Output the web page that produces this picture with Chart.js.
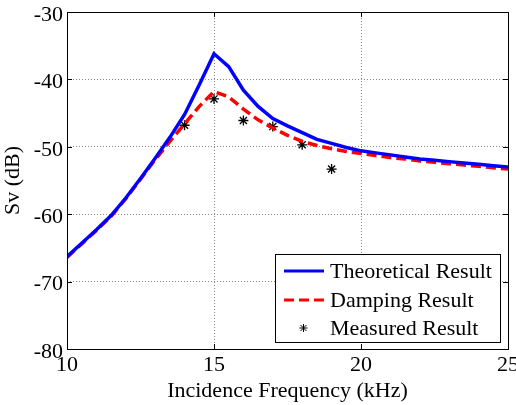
<!DOCTYPE html>
<html>
<head>
<meta charset="utf-8">
<script src="https://cdn.jsdelivr.net/npm/chart.js@4/dist/chart.umd.min.js"></script>
<style>
html,body{margin:0;padding:0;background:#fff;}
canvas{display:block;}
</style>
</head>
<body>
<canvas id="c" width="516" height="405"></canvas>
<script>
// frequency (kHz) and response values
var freq = [10,10.5,11,11.5,12,12.5,13,13.5,14,14.5,15,15.5,16,16.5,17,17.5,18,18.5,19,19.5,20,20.5,21,21.5,22,22.5,23,23.5,24,24.5,25];
var theoretical = [-66.3,-64.3,-62.3,-60.2,-57.6,-54.7,-51.7,-48.6,-45.2,-40.8,-36.2,-38.1,-41.6,-44.0,-45.8,-46.9,-47.9,-48.9,-49.5,-50.1,-50.6,-50.9,-51.2,-51.5,-51.8,-52.0,-52.2,-52.4,-52.6,-52.8,-53.0];
var damping = [-66.4,-64.4,-62.4,-60.3,-57.7,-54.8,-51.9,-49.2,-46.6,-44.0,-41.8,-42.6,-44.4,-46.0,-47.2,-48.3,-49.2,-49.8,-50.3,-50.7,-51.0,-51.3,-51.6,-51.8,-52.1,-52.3,-52.5,-52.7,-52.9,-53.1,-53.3];
var measFreq = [14,15,16,17,18,19];
var measured = [-46.8,-42.9,-46.1,-47.0,-49.7,-53.3];
var xTicks = [10,15,20,25];
var yTicks = [-80,-70,-60,-50,-40,-30];

var serif = "'Liberation Serif', 'Times New Roman', serif";

function pts(xs, ys){
    var out = [];
    for(var i=0;i<xs.length;i++) out.push({x:xs[i], y:ys[i]});
    return out;
}

// box round the plot, inward ticks and the legend
var frame = {
    id:'frame',
    afterDraw:function(chart){
        var ctx = chart.ctx, a = chart.chartArea;
        var xs = chart.scales.x, ys = chart.scales.y;
        ctx.save();
        ctx.strokeStyle = '#000';
        ctx.lineWidth = 1;
        ctx.strokeRect(Math.round(a.left)+0.5, Math.round(a.top)+0.5, Math.round(a.right-a.left), Math.round(a.bottom-a.top));
        ctx.beginPath();
        xTicks.forEach(function(v){
            var p = Math.round(xs.getPixelForValue(v))+0.5;
            ctx.moveTo(p, a.bottom); ctx.lineTo(p, a.bottom-5);
            ctx.moveTo(p, a.top); ctx.lineTo(p, a.top+5);
        });
        yTicks.forEach(function(v){
            var p = Math.round(ys.getPixelForValue(v))+0.5;
            ctx.moveTo(a.left, p); ctx.lineTo(a.left+5, p);
            ctx.moveTo(a.right, p); ctx.lineTo(a.right-5, p);
        });
        ctx.stroke();

        // legend
        var bx = 275, by = 254, bw = 225, bh = 88;
        ctx.fillStyle = '#fff';
        ctx.fillRect(bx, by, bw, bh);
        ctx.strokeRect(bx+0.5, by+0.5, bw, bh);
        ctx.font = '22px ' + serif;
        ctx.textBaseline = 'middle';
        ctx.textAlign = 'left';
        var rows = [271, 300, 328];
        var ds = chart.data.datasets;
        for(var i=0;i<ds.length;i++){
            var y = rows[i];
            if(i < 2){
                ctx.beginPath();
                ctx.strokeStyle = ds[i].borderColor;
                ctx.lineWidth = 3;
                ctx.setLineDash(ds[i].borderDash || []);
                ctx.moveTo(284, y); ctx.lineTo(324, y);
                ctx.stroke();
                ctx.setLineDash([]);
            } else {
                ctx.strokeStyle = '#000';
                ctx.lineWidth = 1;
                ctx.beginPath();
                ctx.moveTo(300.5, y-3); ctx.lineTo(306.5, y+3);
                ctx.moveTo(306.5, y-3); ctx.lineTo(300.5, y+3);
                ctx.moveTo(303.5, y-4); ctx.lineTo(303.5, y+4);
                ctx.moveTo(299.5, y); ctx.lineTo(307.5, y);
                ctx.stroke();
            }
            ctx.fillStyle = '#000';
            ctx.fillText(ds[i].label, 330, y+1);
        }
        ctx.restore();
    }
};

new Chart(document.getElementById('c'), {
    type:'line',
    data:{
        datasets:[{
            label:'Theoretical Result',
            data:pts(freq, theoretical),
            borderColor:'#0000ff',
            borderWidth:3.5,
            pointRadius:0,
            tension:0,
            fill:false
        },{
            label:'Damping Result',
            data:pts(freq, damping),
            borderColor:'#ff0000',
            borderWidth:3.5,
            borderDash:[10,5],
            pointRadius:0,
            tension:0,
            fill:false
        },{
            label:'Measured Result',
            data:pts(measFreq, measured),
            showLine:false,
            pointStyle:'star',
            pointRadius:5,
            borderColor:'#000',
            backgroundColor:'#000',
            pointBorderWidth:1.3
        }]
    },
    options:{
        responsive:false,
        animation:false,
        devicePixelRatio:1,
        layout:{padding:{top:12, right:8, left:0, bottom:0}},
        plugins:{legend:{display:false}, tooltip:{enabled:false}},
        scales:{
            x:{
                type:'linear', min:10, max:25,
                afterBuildTicks:function(s){ s.ticks = xTicks.map(function(v){return {value:v};}); },
                afterFit:function(s){ s.height = 56; s.paddingLeft = 0; s.paddingRight = 0; },
                grid:{color:'#888', lineWidth:1, drawTicks:false},
                border:{display:false, dash:[1,2]},
                ticks:{color:'#000', font:{family:serif, size:22}, padding:3, maxRotation:0, autoSkip:false},
                title:{display:true, text:'Incidence Frequency (kHz)', color:'#000', font:{family:serif, size:22}, padding:{top:0,bottom:1}}
            },
            y:{
                min:-80, max:-30,
                afterBuildTicks:function(s){ s.ticks = yTicks.map(function(v){return {value:v};}); },
                afterFit:function(s){ s.width = 67; s.paddingTop = 0; s.paddingBottom = 0; },
                grid:{color:'#888', lineWidth:1, drawTicks:false},
                border:{display:false, dash:[1,2]},
                ticks:{color:'#000', font:{family:serif, size:22}, padding:4, labelOffset:3, autoSkip:false},
                title:{display:true, text:'Sv (dB)', color:'#000', font:{family:serif, size:22}, padding:{top:0,bottom:0}}
            }
        }
    },
    plugins:[frame]
});
</script>
</body>
</html>
